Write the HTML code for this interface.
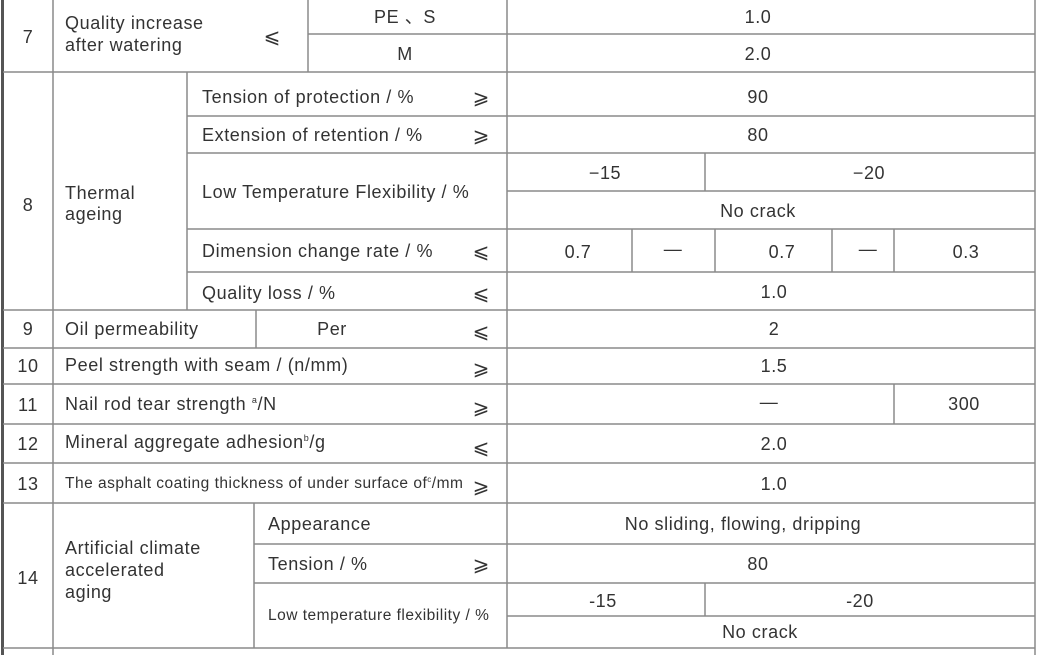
<!DOCTYPE html>
<html><head><meta charset="utf-8"><style>
html,body{margin:0;padding:0;background:#fff;}
svg{display:block;}
text{font-family:"Liberation Sans",Arial,sans-serif;fill:#333;font-size:18px;letter-spacing:0.6px;}
.s{font-size:15.5px;letter-spacing:0.5px;}
.c{text-anchor:middle;}
.g{font-size:20px;letter-spacing:0;}
line{stroke:#8a8a8a;stroke-width:1.5;}
</style></head><body>
<svg width="1038" height="655" viewBox="0 0 1038 655" xmlns="http://www.w3.org/2000/svg">
<g>
<rect x="1" y="0" width="3" height="655" fill="#555"/>
<line x1="1035" y1="0" x2="1035" y2="655"/>
<line x1="53" y1="0" x2="53" y2="655"/>
<line x1="507" y1="0" x2="507" y2="648"/>
<line x1="308" y1="0" x2="308" y2="72"/>
<line x1="308" y1="34" x2="1035" y2="34"/>
<line x1="3" y1="72" x2="1035" y2="72"/>
<line x1="187" y1="72" x2="187" y2="310"/>
<line x1="187" y1="116" x2="1035" y2="116"/>
<line x1="187" y1="153" x2="1035" y2="153"/>
<line x1="507" y1="191" x2="1035" y2="191"/>
<line x1="705" y1="153" x2="705" y2="191"/>
<line x1="187" y1="229" x2="1035" y2="229"/>
<line x1="632" y1="229" x2="632" y2="272"/>
<line x1="715" y1="229" x2="715" y2="272"/>
<line x1="832" y1="229" x2="832" y2="272"/>
<line x1="894" y1="229" x2="894" y2="272"/>
<line x1="187" y1="272" x2="1035" y2="272"/>
<line x1="3" y1="310" x2="1035" y2="310"/>
<line x1="256" y1="310" x2="256" y2="348"/>
<line x1="3" y1="348" x2="1035" y2="348"/>
<line x1="3" y1="384" x2="1035" y2="384"/>
<line x1="894" y1="384" x2="894" y2="424"/>
<line x1="3" y1="424" x2="1035" y2="424"/>
<line x1="3" y1="463" x2="1035" y2="463"/>
<line x1="3" y1="503" x2="1035" y2="503"/>
<line x1="254" y1="503" x2="254" y2="648"/>
<line x1="254" y1="544" x2="1035" y2="544"/>
<line x1="254" y1="583" x2="1035" y2="583"/>
<line x1="507" y1="616" x2="1035" y2="616"/>
<line x1="705" y1="583" x2="705" y2="616"/>
<line x1="3" y1="648" x2="1035" y2="648"/>
</g>
<g>
<text class="c" x="28" y="43">7</text>
<text x="65" y="29">Quality increase</text>
<text x="65" y="51">after watering</text>
<text class="c g" x="272" y="43">⩽</text>
<text class="c" x="405" y="23">PE 、S</text>
<text class="c" x="405" y="60">M</text>
<text class="c" x="758" y="23">1.0</text>
<text class="c" x="758" y="60">2.0</text>
</g>
<g>
<text class="c" x="28" y="211">8</text>
<text x="65" y="199">Thermal</text>
<text x="65" y="220">ageing</text>
<text x="202" y="103">Tension of protection  / %</text>
<text class="c g" x="481" y="104">⩾</text>
<text class="c" x="758" y="103">90</text>
<text x="202" y="141">Extension of retention  / %</text>
<text class="c g" x="481" y="142">⩾</text>
<text class="c" x="758" y="141">80</text>
<text x="202" y="198">Low Temperature Flexibility  / %</text>
<text class="c" x="605" y="179">−15</text>
<text class="c" x="869" y="179">−20</text>
<text class="c" x="758" y="217">No crack</text>
<text x="202" y="257">Dimension change rate  / %</text>
<text class="c g" x="481" y="258">⩽</text>
<text class="c" x="578" y="258">0.7</text>
<text class="c" x="673" y="255">—</text>
<text class="c" x="782" y="258">0.7</text>
<text class="c" x="868" y="255">—</text>
<text class="c" x="966" y="258">0.3</text>
<text x="202" y="299">Quality loss  / %</text>
<text class="c g" x="481" y="300">⩽</text>
<text class="c" x="774" y="298">1.0</text>
</g>
<g>
<text class="c" x="28" y="335">9</text>
<text x="65" y="335">Oil permeability</text>
<text class="c" x="332" y="335">Per</text>
<text class="c g" x="481" y="338">⩽</text>
<text class="c" x="774" y="335">2</text>
<text class="c" x="28" y="372">10</text>
<text x="65" y="371">Peel strength with seam / (n/mm)</text>
<text class="c g" x="481" y="375">⩾</text>
<text class="c" x="774" y="372">1.5</text>
<text class="c" x="28" y="411">11</text>
<text x="65" y="410">Nail rod tear strength <tspan font-size="9" dy="-7">a</tspan><tspan dy="7">/N</tspan></text>
<text class="c g" x="481" y="414">⩾</text>
<text class="c" x="769" y="408">—</text>
<text class="c" x="964" y="410">300</text>
<text class="c" x="28" y="450">12</text>
<text x="65" y="448">Mineral aggregate adhesion<tspan font-size="9" dy="-7">b</tspan><tspan dy="7">/g</tspan></text>
<text class="c g" x="481" y="454">⩽</text>
<text class="c" x="774" y="450">2.0</text>
<text class="c" x="28" y="490">13</text>
<text class="s" x="65" y="488">The asphalt coating thickness of under surface of<tspan font-size="8" dy="-6">c</tspan><tspan dy="6">/mm</tspan></text>
<text class="c g" x="481" y="493">⩾</text>
<text class="c" x="774" y="490">1.0</text>
</g>
<g>
<text class="c" x="28" y="584">14</text>
<text x="65" y="554">Artificial climate</text>
<text x="65" y="576">accelerated</text>
<text x="65" y="598">aging</text>
<text x="268" y="530">Appearance</text>
<text class="c" x="743" y="530">No sliding, flowing, dripping</text>
<text x="268" y="570">Tension  / %</text>
<text class="c g" x="481" y="571">⩾</text>
<text class="c" x="758" y="570">80</text>
<text class="s" x="268" y="620">Low temperature flexibility  / %</text>
<text class="c" x="603" y="607">-15</text>
<text class="c" x="860" y="607">-20</text>
<text class="c" x="760" y="638">No crack</text>
</g>
</svg>
</body></html>
